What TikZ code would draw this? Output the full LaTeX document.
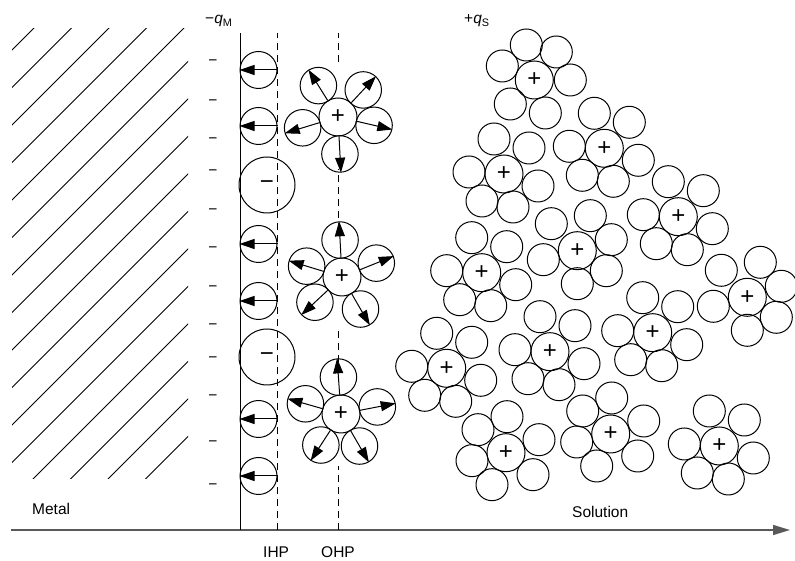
\documentclass[tikz,border=0pt]{standalone}
\usepackage{fontspec}
\setmainfont{Liberation Sans}
\usetikzlibrary{arrows.meta}

\begin{document}
\begin{tikzpicture}[x=1pt,y=1pt,
		lbl/.style={font=\fontsize{15.5}{18}\selectfont, inner sep=0pt},
		ion/.style={circle, draw, line width=1pt, inner sep=0pt, font=\fontsize{24}{24}\selectfont},
		dipole/.style={ion, minimum size=37pt},
		anion/.style={ion, minimum size=56pt},
		cation/.style={ion, fill=white, minimum size=38pt},
		water/.style={ion, minimum size=32pt},
		owater/.style={ion, minimum size=36.5pt},
		plane/.style={line width=1pt, dash pattern=on 7pt off 5pt},
		dip/.style={line width=1pt, -{Triangle[length=15pt,width=10pt]}}]
		\useasboundingbox (0,0) rectangle (795,561);
		% metal hatching
		\begin{scope}
			\clip (12,82) rectangle (188,532);
			\foreach \i in {0,...,15}{
				\pgfmathsetmacro\c{62+37.5*\i}
				\draw[line width=0.9pt] (0,561-\c) -- (200,761-\c);
			}
		\end{scope}
		\draw[line width=1.4pt, black!65, -{Triangle[length=17pt,width=10pt]}] (11,31) -- (790,31);
		\draw[line width=0.9pt] (240,31) -- (240,528);
		\draw[plane] (277,31) -- (277,528);
		\draw[plane] (338,31) -- (338,528);
		\foreach \y [count=\k] in {498,458,420,388,349,311,272,234,201,163,117,74}{
			\node[lbl] (m\k) at (213,\y) {−};
		}
		% inner layer: oriented water and adsorbed anions
		\foreach \y [count=\k] in {491,435,317,260,142,85}{
			\node[dipole] (d\k) at (258.5,\y) {};
			\draw[dip] (d\k.east) -- (d\k.west);
		}
		\node[anion] (a1) at (267,376) {−};
		\node[anion] (a2) at (267,204) {−};
		% solvated cations on the OHP
		\fill[white] (338,444) circle (52);
		\node[cation] (o1) at (338,444) {+};
		\foreach \a [count=\k] in {122,47,-13,-87,197}{
			\node[owater] (o1w\k) at ([shift={(\a:37)}]o1) {};
			\draw[dip] (o1.\a) -- (o1w\k.\a);
		}
		\fill[white] (342,284) circle (52);
		\node[cation] (o2) at (342,284) {+};
		\foreach \a [count=\k] in {93,22,-60,-137,163}{
			\node[owater] (o2w\k) at ([shift={(\a:37)}]o2) {};
			\draw[dip] (o2.\a) -- (o2w\k.\a);
		}
		\fill[white] (341,147) circle (52);
		\node[cation] (o3) at (341,147) {+};
		\foreach \a [count=\k] in {94,11,-60,-123,164}{
			\node[owater] (o3w\k) at ([shift={(\a:37)}]o3) {};
			\draw[dip] (o3.\a) -- (o3w\k.\a);
		}
		% diffuse layer
		\node[cation] (sA) at (534.3,481) {+};
		\foreach \dx/\dy [count=\k] in {-8/35,22/28,-32/14,36/0,-24/-24,11/-33}
			\node[water] (sA\k) at ([shift={(\dx,\dy)}]sA) {};
		\foreach \n/\x/\y in {B/604.3/412.7, C/504/387, D/678.3/344.3, F/481.7/288.3,
				H/652.7/228.3, I/550/209.3, J/446.7/192.7, M/719.3/115}{
			\node[cation] (s\n) at (\x,\y) {+};
			\foreach \dx/\dy [count=\k] in {-10/35,25/26,-35/2,34/-12,-22/-27,9/-33}
				\node[water] (s\n\k) at ([shift={(\dx,\dy)}]s\n) {};
		}
		\foreach \n/\x/\y in {E/577.3/310.3, G/747.3/263.7}{
			\node[cation] (s\n) at (\x,\y) {+};
			\foreach \dx/\dy [count=\k] in {-26/27,13/35,34/11,-34/-9,29/-20,0/-33}
				\node[water] (s\n\k) at ([shift={(\dx,\dy)}]s\n) {};
		}
		\foreach \n/\x/\y in {K/506/108.3, L/610.7/127}{
			\node[cation] (s\n) at (\x,\y) {+};
			\foreach \dx/\dy [count=\k] in {1/36,-28/23,33/13,-34/-8,27/-22,-14/-32}
				\node[water] (s\n\k) at ([shift={(\dx,\dy)}]s\n) {};
		}
		\node[lbl, anchor=base west] (qm) at (205,537) {−\textit{q}\textsubscript{M}};
		\node[lbl, anchor=base west] (qs) at (464,537.5) {+\textit{q}\textsubscript{S}};
		\node[lbl, anchor=base west] (metal) at (32,46) {Metal};
		\node[lbl, anchor=base west] (sol) at (572,43) {Solution};
		\node[lbl, anchor=base west] (ihp) at (263,3.5) {IHP};
		\node[lbl, anchor=base west] (ohp) at (321,3.5) {OHP};
	\end{tikzpicture}
\end{document}
